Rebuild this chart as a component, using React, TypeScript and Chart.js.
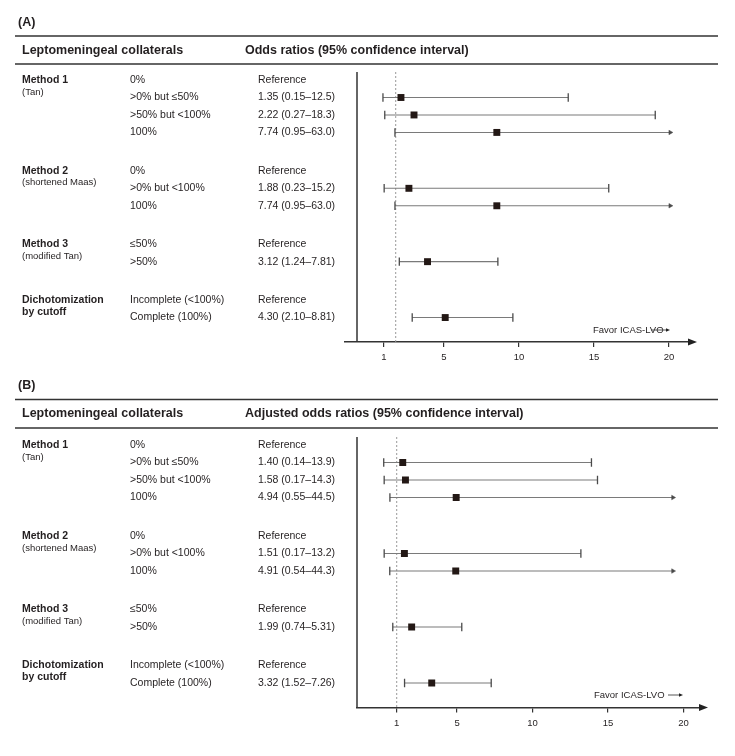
import { useEffect, useRef } from "react";
import { Chart, registerables } from "chart.js";

Chart.register(...registerables);

const FONT = '"Liberation Sans", Arial, Helvetica, sans-serif';
const TEXT = "#231f20";
const RULE = "#333333";

// ---- table structure (shared by both panels) ----
const GROUP_TITLES = ["Method 1", "Method 2", "Method 3", "Dichotomization"];
const GROUP_SUBTITLES = ["(Tan)", "(shortened Maas)", "(modified Tan)", "by cutoff"];
const GROUP_SUB_BOLD = [false, false, false, true];
const ROW_GROUP = [0, 0, 0, 0, 1, 1, 1, 2, 2, 3, 3];
const ROW_LABELS = [
  "0%",
  ">0% but ≤50%",
  ">50% but <100%",
  "100%",
  "0%",
  ">0% but <100%",
  "100%",
  "≤50%",
  ">50%",
  "Incomplete (<100%)",
  "Complete (100%)",
];

// ---- Panel A: odds ratios ----
const A_OR = [null, 1.35, 2.22, 7.74, null, 1.88, 7.74, null, 3.12, null, 4.3];
const A_LOWER = [null, 0.15, 0.27, 0.95, null, 0.23, 0.95, null, 1.24, null, 2.1];
const A_UPPER = [null, 12.5, 18.3, 63.0, null, 15.2, 63.0, null, 7.81, null, 8.81];

// ---- Panel B: adjusted odds ratios ----
const B_OR = [null, 1.4, 1.58, 4.94, null, 1.51, 4.91, null, 1.99, null, 3.32];
const B_LOWER = [null, 0.14, 0.17, 0.55, null, 0.17, 0.54, null, 0.74, null, 1.52];
const B_UPPER = [null, 13.9, 14.3, 44.5, null, 13.2, 44.3, null, 5.31, null, 7.26];

// ---- axis ----
const X_TICKS = [1, 5, 10, 15, 20];
const X_TICK_LABELS = ["1", "5", "10", "15", "20"];
const REFERENCE_OR = 1;
const CI_DRAW_LIMIT = 19.3; // intervals beyond the axis end in an arrow here
const GROUP_STEP = 2.2; // row units between groups

type Panel = {
  label: string;
  header2: string;
  labelY: number;
  rule1Y: number;
  headerY: number;
  rule2Y: number;
  height: number;
  padLeft: number;
  padRight: number;
  padBottom: number;
  xMin: number;
  xMax: number;
  tickShift: number;
  yAxisInset: number;
  favorX: number;
  favorY: number;
  arrowFrom: number;
  arrowTo: number;
};

const PANEL_A: Panel = {
  label: "(A)",
  header2: "Odds ratios (95% confidence interval)",
  labelY: 23,
  rule1Y: 36,
  headerY: 50.5,
  rule2Y: 64,
  height: 365,
  padLeft: 345,
  padRight: 46,
  padBottom: 0,
  xMin: -2.38,
  xMax: 20.55,
  tickShift: -0.78, // the source figure's tick marks sit left of their values
  yAxisInset: 12,
  favorX: 593,
  favorY: 330,
  arrowFrom: 651,
  arrowTo: 670,
};

const PANEL_B: Panel = {
  label: "(B)",
  header2: "Adjusted odds ratios (95% confidence interval)",
  labelY: 20.5,
  rule1Y: 34.5,
  headerY: 48.5,
  rule2Y: 63,
  height: 391,
  padLeft: 357,
  padRight: 35,
  padBottom: 25.5,
  xMin: -1.63,
  xMax: 21.09,
  tickShift: 0,
  yAxisInset: 0,
  favorX: 594,
  favorY: 330,
  arrowFrom: 668,
  arrowTo: 683,
};

function rowPositions(): number[] {
  const pos: number[] = [];
  let p = 0;
  ROW_GROUP.forEach((g, i) => {
    if (i > 0) p += g !== ROW_GROUP[i - 1] ? GROUP_STEP : 1;
    pos.push(p);
  });
  return pos;
}

function valueText(or: number | null, lo: number | null, hi: number | null) {
  if (or == null || lo == null || hi == null) return "Reference";
  return `${or.toFixed(2)} (${lo.toFixed(2)}–${hi.toPrecision(3)})`;
}

function buildChart(
  canvas: HTMLCanvasElement,
  p: Panel,
  ors: (number | null)[],
  lows: (number | null)[],
  highs: (number | null)[]
) {
  const pos = rowPositions();
  const datasets: any[] = [];
  ors.forEach((or, i) => {
    const lo = lows[i];
    const hi = highs[i];
    if (or == null || lo == null || hi == null) return;
    const arrow = hi > CI_DRAW_LIMIT;
    datasets.push({
      data: [
        { x: lo, y: pos[i] },
        { x: Math.min(hi, CI_DRAW_LIMIT), y: pos[i] },
      ],
      showLine: true,
      borderColor: "#7a7a7a",
      borderWidth: 1.1,
      pointStyle: ["line", arrow ? "triangle" : "line"],
      pointRotation: 90,
      pointRadius: [4.2, arrow ? 2.6 : 4.2],
      pointBorderWidth: [1.3, arrow ? 0.5 : 1.3],
      pointBorderColor: "#4a4a4a",
      pointBackgroundColor: "#4a4a4a",
      order: 1,
    });
  });
  datasets.push({
    data: ors
      .map((or, i) => (or == null ? null : { x: or, y: pos[i] }))
      .filter((d) => d !== null),
    pointStyle: "rect",
    pointRadius: 4.9,
    pointBorderWidth: 0,
    pointBackgroundColor: "#231815",
    backgroundColor: "#231815",
    order: 0,
  });

  const decor = {
    id: "decor",
    beforeDatasetsDraw(chart: any) {
      const { ctx, chartArea: ca, scales } = chart;
      const x = scales.x;
      ctx.save();
      ctx.strokeStyle = RULE;
      ctx.lineWidth = 1.5;
      ctx.beginPath();
      ctx.moveTo(ca.left + p.yAxisInset, ca.top);
      ctx.lineTo(ca.left + p.yAxisInset, ca.bottom);
      ctx.stroke();
      const rx = x.getPixelForValue(REFERENCE_OR);
      ctx.setLineDash([2, 2]);
      ctx.strokeStyle = "#999";
      ctx.lineWidth = 1;
      ctx.beginPath();
      ctx.moveTo(rx, ca.top);
      ctx.lineTo(rx, ca.bottom);
      ctx.stroke();
      ctx.restore();
    },
    afterDraw(chart: any) {
      const { ctx, chartArea: ca, scales } = chart;
      const y = scales.y;
      ctx.save();
      ctx.fillStyle = TEXT;
      ctx.textBaseline = "middle";
      ctx.textAlign = "left";
      // panel label
      ctx.font = `bold 12.5px ${FONT}`;
      ctx.fillText(p.label, 18, p.labelY);
      // rules
      ctx.strokeStyle = RULE;
      ctx.lineWidth = 1.3;
      [p.rule1Y, p.rule2Y].forEach((ry) => {
        ctx.beginPath();
        ctx.moveTo(15, ry);
        ctx.lineTo(718, ry);
        ctx.stroke();
      });
      // headers
      ctx.font = `bold 12.5px ${FONT}`;
      ctx.fillText("Leptomeningeal collaterals", 22, p.headerY);
      ctx.fillText(p.header2, 245, p.headerY);
      // groups
      GROUP_TITLES.forEach((t, g) => {
        const first = ROW_GROUP.indexOf(g);
        const gy = y.getPixelForValue(pos[first]);
        ctx.font = `bold 10.5px ${FONT}`;
        ctx.fillText(t, 22, gy);
        ctx.font = GROUP_SUB_BOLD[g] ? `bold 10.5px ${FONT}` : `9.5px ${FONT}`;
        ctx.fillText(GROUP_SUBTITLES[g], 22, gy + 12);
      });
      // rows
      ctx.font = `10.5px ${FONT}`;
      ROW_LABELS.forEach((lab, i) => {
        const ry = y.getPixelForValue(pos[i]);
        ctx.fillText(lab, 130, ry);
        ctx.fillText(valueText(ors[i], lows[i], highs[i]), 258, ry);
      });
      // favor label
      ctx.font = `9.5px ${FONT}`;
      ctx.fillText("Favor ICAS-LVO", p.favorX, p.favorY);
      ctx.strokeStyle = "#444";
      ctx.lineWidth = 0.9;
      ctx.beginPath();
      ctx.moveTo(p.arrowFrom, p.favorY);
      ctx.lineTo(p.arrowTo - 3, p.favorY);
      ctx.stroke();
      ctx.fillStyle = "#222";
      ctx.beginPath();
      ctx.moveTo(p.arrowTo - 4, p.favorY - 1.8);
      ctx.lineTo(p.arrowTo, p.favorY);
      ctx.lineTo(p.arrowTo - 4, p.favorY + 1.8);
      ctx.closePath();
      ctx.fill();
      // x axis arrow head
      ctx.fillStyle = "#222";
      ctx.beginPath();
      ctx.moveTo(ca.right - 1, ca.bottom - 3.5);
      ctx.lineTo(ca.right + 8, ca.bottom);
      ctx.lineTo(ca.right - 1, ca.bottom + 3.5);
      ctx.closePath();
      ctx.fill();
      ctx.restore();
    },
  };

  return new Chart(canvas, {
    type: "scatter",
    data: { datasets },
    options: {
      responsive: false,
      animation: false,
      events: [],
      layout: {
        autoPadding: false,
        padding: { left: p.padLeft, right: p.padRight, top: 72, bottom: p.padBottom },
      },
      plugins: { legend: { display: false }, tooltip: { enabled: false } },
      scales: {
        x: {
          type: "linear",
          min: p.xMin,
          max: p.xMax,
          afterFit: (s: any) => {
            s.height = 23;
          },
          afterBuildTicks: (axis: any) => {
            axis.ticks = X_TICKS.map((v) => ({ value: v + p.tickShift }));
          },
          ticks: {
            callback: (_v: any, i: number) => X_TICK_LABELS[i],
            autoSkip: false,
            maxRotation: 0,
            padding: 5,
            color: TEXT,
            font: { family: FONT, size: 9.5 },
          },
          grid: {
            display: true,
            drawOnChartArea: false,
            drawTicks: true,
            tickLength: 5,
            color: RULE,
            lineWidth: 1.2,
          },
          border: { display: true, color: RULE, width: 1.5 },
        },
        y: {
          type: "linear",
          display: false,
          reverse: true,
          min: -0.46,
          max: 15.0,
        },
      },
    },
    plugins: [decor],
  } as any);
}

export default function App() {
  const refA = useRef<HTMLCanvasElement>(null);
  const refB = useRef<HTMLCanvasElement>(null);
  useEffect(() => {
    const a = buildChart(refA.current!, PANEL_A, A_OR, A_LOWER, A_UPPER);
    const b = buildChart(refB.current!, PANEL_B, B_OR, B_LOWER, B_UPPER);
    return () => {
      a.destroy();
      b.destroy();
    };
  }, []);
  return (
    <div
      style={{
        position: "absolute",
        left: 0,
        top: 0,
        width: 735,
        height: 756,
        background: "#fff",
      }}
    >
      <canvas
        ref={refA}
        width={735}
        height={PANEL_A.height}
        style={{ position: "absolute", left: 0, top: 0 }}
      />
      <canvas
        ref={refB}
        width={735}
        height={PANEL_B.height}
        style={{ position: "absolute", left: 0, top: PANEL_A.height }}
      />
    </div>
  );
}
